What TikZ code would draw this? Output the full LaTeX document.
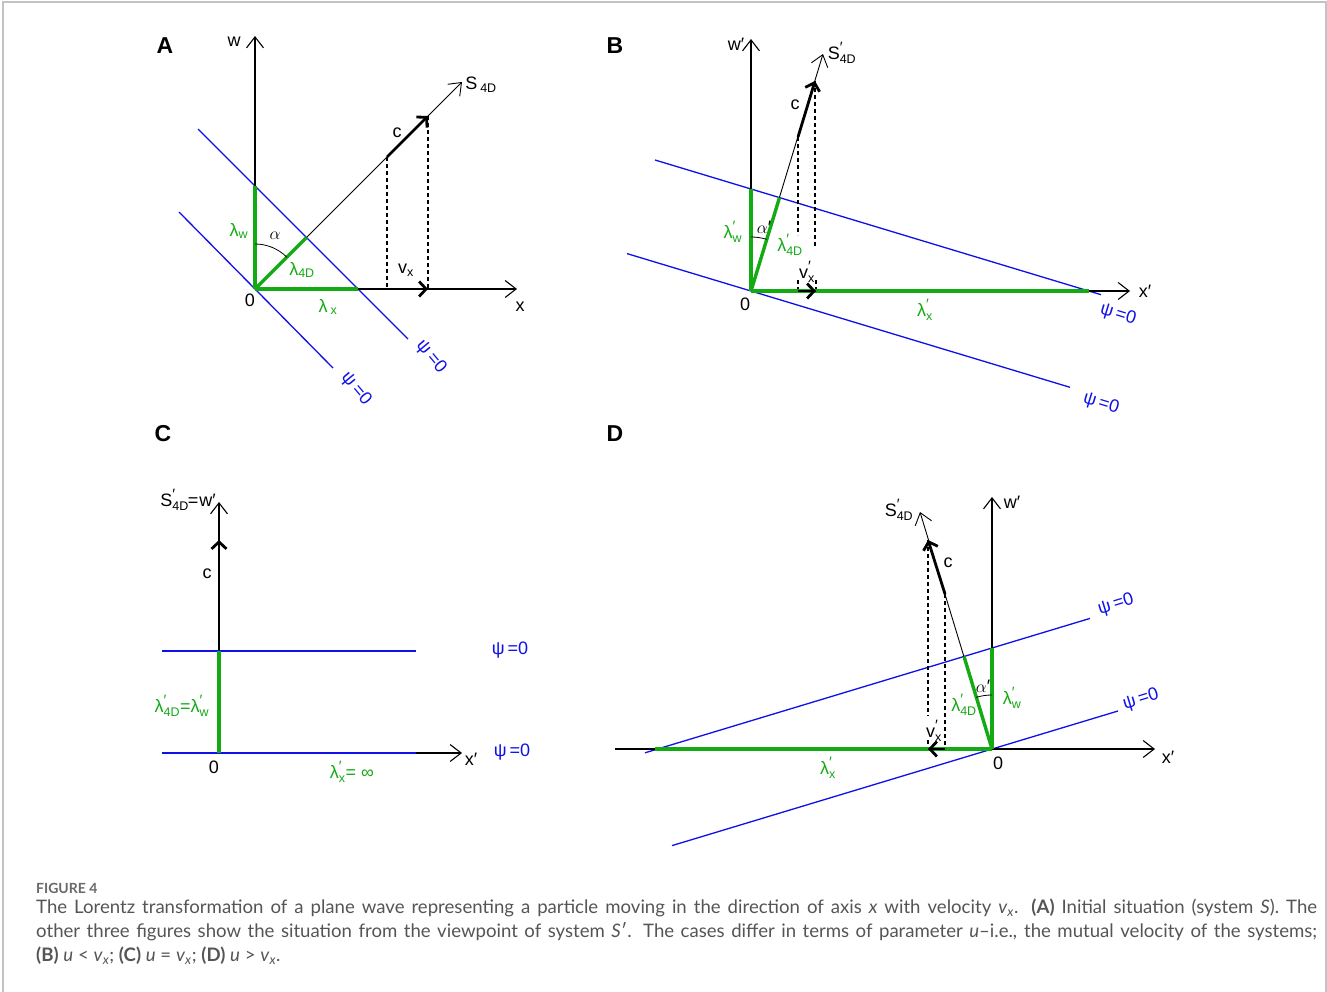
\documentclass[tikz,border=0pt]{standalone}
\usepackage{fontspec}
\setmainfont{Liberation Sans}
\newfontfamily\capfont{Lato}
\usetikzlibrary{arrows.meta,calc}
\definecolor{grn}{RGB}{20,170,20}
\definecolor{blu}{RGB}{15,15,235}
\definecolor{capgray}{RGB}{85,85,85}
\definecolor{figgray}{RGB}{105,105,105}
\definecolor{framegray}{RGB}{195,195,195}
\newcommand\lfs{\fontsize{18}{21}\selectfont}
\newcommand\sfs{\fontsize{12.5}{14}\selectfont}
\newcommand\pfs{\fontsize{15}{16}\selectfont}
\newcommand\sbb[1]{\ensuremath{_{\hbox{\sfs #1}}}}
\newcommand\ssb[1]{\ensuremath{^{\hbox{\pfs ′}}_{\hbox{\sfs #1}}}}
\tikzset{
  axis/.style={black, line width=1.1pt, -{Straight Barb[length=11pt,width=17pt]}},
  sline/.style={black, line width=0.9pt, -{Straight Barb[length=11pt,width=17pt]}},
  vec/.style={black, line width=2.8pt, -{Straight Barb[length=7pt,width=15pt]}},
  dsh/.style={black, line width=1.1pt, dash pattern=on 4pt off 3pt},
  gline/.style={grn, line width=3.4pt},
  bline/.style={blu, line width=1.3pt},
  arcl/.style={black, line width=0.8pt},
  lab/.style={inner sep=0pt, font=\lfs},
  glab/.style={lab, text=grn},
  blab/.style={lab, text=blu},
  plab/.style={inner sep=0pt, font=\fontsize{23}{26}\selectfont\bfseries},
}
\begin{document}
\begin{tikzpicture}[x=1pt,y=-1pt]
\useasboundingbox (0,0) rectangle (1327,992);
\fill[white] (0,0) rectangle (1327,992);
\draw[framegray, line width=1.2pt] (3,992) -- (3,2) -- (1326,2) -- (1326,992);

% ================= Panel A =================
\coordinate (A0) at (255,289);
\coordinate (Aw) at (255,36);
\coordinate (Ax) at (517,289);
\coordinate (As) at (462,82);
\coordinate (Ac1) at (387,157);
\coordinate (Ac2) at (428,116);
\coordinate (Av1) at (387,289);
\coordinate (Av2) at (428,289);
\coordinate (Alw) at (255,186);
\coordinate (Alx) at (358,289);
\coordinate (Al4) at (306.5,237.5);
\coordinate (Ab1s) at (198,129);
\coordinate (Ab1e) at (408,339);
\coordinate (Ab2s) at (179,212);
\coordinate (Ab2e) at (333,368);
\draw[bline] (Ab1s) -- (Ab1e);
\draw[bline] (Ab2s) -- (Ab2e);
\draw[axis] (A0) -- (Aw);
\draw[axis] (A0) -- (Ax);
\draw[sline] (A0) -- (As);
\draw[dsh] (Ac1) -- (Av1);
\draw[dsh] (Ac2) -- (Av2);
\draw[gline] (A0) -- (Alw);
\draw[gline] (A0) -- (Alx);
\draw[gline] (A0) -- (Al4);
\draw[vec] (Ac1) -- (Ac2);
\draw[vec] (Av1) -- (Av2);
\draw[arcl] (A0) ++(0,-45) arc[start angle=90, end angle=45, radius=45pt];
\node[plab] (LA) at (165,46) {A};
\node[lab] (Awl) at (234,42) {w};
\node[lab] (Asl) at (481,85) {S\,\sbb{4D}};
\node[lab] (Acl) at (397,133) {c};
\node[glab] (Alwl) at (239,231) {λ\sbb{w}};
\node[lab] (Aal) at (275,236) {$\alpha$};
\node[glab] (Al4l) at (302,270) {λ\sbb{4D}};
\node[lab] (Avl) at (406,270) {v\sbb{x}};
\node[lab] (A0l) at (250,300) {0};
\node[glab] (Alxl) at (328,307) {λ\,\sbb{x}};
\node[lab] (Axl) at (520,307) {x};
\node[blab, rotate=-50] (Ap1) at (431,357) {ψ\kern3pt=0};
\node[blab, rotate=-50] (Ap2) at (356,389) {ψ\kern3pt=0};

% ================= Panel B =================
\coordinate (B0) at (751,291);
\coordinate (Bw) at (751,39);
\coordinate (Bx) at (1130,291);
\coordinate (Bs) at (823,54);
\coordinate (Bc1) at (798,137);
\coordinate (Bc2) at (815,81);
\coordinate (Bv1) at (798,291);
\coordinate (Bv2) at (816,291);
\coordinate (Bd1) at (798,235);
\coordinate (Bd2) at (815,247);
\coordinate (Bd3) at (798,280);
\coordinate (Bd4) at (816,280);
\coordinate (Blw) at (751,189);
\coordinate (Bl4) at (779.5,197.6);
\coordinate (Blx) at (1089,291);
\coordinate (Bb1s) at (655,160);
\coordinate (Bb1e) at (1101,294.7);
\coordinate (Bb2s) at (627,253.6);
\coordinate (Bb2e) at (1070,387.3);
\draw[bline] (Bb1s) -- (Bb1e);
\draw[bline] (Bb2s) -- (Bb2e);
\draw[axis] (B0) -- (Bw);
\draw[axis] (B0) -- (Bx);
\draw[sline] (B0) -- (Bs);
\draw[dsh] (Bc1) -- (Bd1);
\draw[dsh] (Bc2) -- (Bd2);
\draw[dsh] (Bd3) -- (Bv1);
\draw[dsh] (Bd4) -- (Bv2);
\draw[gline] (B0) -- (Blw);
\draw[gline] (B0) -- (Bl4);
\draw[gline] (B0) -- (Blx);
\draw[vec] (Bc1) -- (Bc2);
\draw[vec] (Bv1) -- (Bv2);
\draw[arcl] (B0) ++(0,-54) arc[start angle=90, end angle=73, radius=54pt];
\node[plab] (LB) at (615,46) {B};
\node[lab] (Bwl) at (736,44) {w′};
\node[lab] (Bsl) at (842,53) {S\ssb{4D}};
\node[lab] (Bcl) at (795,105) {c};
\node[glab] (Blwl) at (733,232) {λ\ssb{w}};
\node[lab] (Bal) at (764,227) {$\alpha$′};
\node[glab] (Bl4l) at (790,245) {λ\ssb{4D}};
\node[lab] (Bvl) at (807,272) {v\ssb{x}};
\node[lab] (B0l) at (745,304) {0};
\node[glab] (Blxl) at (925,310) {λ\ssb{x}};
\node[lab] (Bxl) at (1145,291) {x′};
\node[blab, rotate=-17] (Bp1) at (1118,315) {ψ\kern3pt=0};
\node[blab, rotate=-17] (Bp2) at (1101,404) {ψ\kern3pt=0};

% ================= Panel C =================
\coordinate (C0) at (219,753);
\coordinate (Cw) at (219,502);
\coordinate (Cx) at (462,753);
\coordinate (Cb1s) at (162,651);
\coordinate (Cb1e) at (416,651);
\coordinate (Cb2s) at (162,753);
\coordinate (Cb2e) at (416,753);
\coordinate (Cg) at (219,651);
\coordinate (Cc1) at (219,598);
\coordinate (Cc2) at (219,540);
\draw[axis] (C0) -- (Cw);
\draw[axis] (C0) -- (Cx);
\draw[bline] (Cb1s) -- (Cb1e);
\draw[bline] (Cb2s) -- (Cb2e);
\draw[gline] (C0) -- (Cg);
\draw[vec] (Cc1) -- (Cc2);
\node[plab] (LC) at (163,434) {C};
\node[lab] (Cwl) at (188,500) {S\ssb{4D}\kern-1pt=\kern1pt w′};
\node[lab] (Ccl) at (207,574) {c};
\node[blab] (Cp1) at (510,650) {ψ\kern3pt=0};
\node[blab] (Cp2) at (512,752) {ψ\kern3pt=0};
\node[glab] (Cll) at (182,706) {λ\ssb{4D}=λ\ssb{w}};
\node[lab] (C0l) at (214,767) {0};
\node[glab] (Clxl) at (352,772) {λ\ssb{x}= ∞};
\node[lab] (Cxl) at (471,759) {x′};

% ================= Panel D =================
\coordinate (D0) at (992,749);
\coordinate (Dw) at (992,497);
\coordinate (Dxl) at (615,749);
\coordinate (Dxr) at (1155,749);
\coordinate (Ds) at (920,512);
\coordinate (Dc1) at (945,594);
\coordinate (Dc2) at (928,540);
\coordinate (Dv1) at (945,749);
\coordinate (Dv2) at (928,749);
\coordinate (Dd1) at (928,716);
\coordinate (Dd2) at (928,740);
\coordinate (Dlw) at (992,648);
\coordinate (Dl4) at (964,656.5);
\coordinate (Dlx) at (655,749);
\coordinate (Db1s) at (645,752.8);
\coordinate (Db1e) at (1090,618.4);
\coordinate (Db2s) at (672,845.6);
\coordinate (Db2e) at (1118,711);
\draw[bline] (Db1s) -- (Db1e);
\draw[bline] (Db2s) -- (Db2e);
\draw[axis] (D0) -- (Dw);
\draw[axis] (Dxl) -- (Dxr);
\draw[sline] (D0) -- (Ds);
\draw[dsh] (Dc2) -- (Dd1);
\draw[dsh] (Dd2) -- (Dv2);
\draw[dsh] (Dc1) -- (Dv1);
\draw[gline] (D0) -- (Dlw);
\draw[gline] (D0) -- (Dl4);
\draw[gline] (D0) -- (Dlx);
\draw[vec] (Dc1) -- (Dc2);
\draw[vec] (Dv1) -- (Dv2);
\draw[arcl] (D0) ++(0,-54) arc[start angle=90, end angle=107, radius=54pt];
\node[plab] (LD) at (615,434) {D};
\node[lab] (Dsl) at (899,510) {S\ssb{4D}};
\node[lab] (Dwl) at (1012,502) {w′};
\node[lab] (Dcl) at (948,563) {c};
\node[blab, rotate=17] (Dp1) at (1116,605) {ψ\kern3pt=0};
\node[blab, rotate=17] (Dp2) at (1141,700) {ψ\kern3pt=0};
\node[lab] (Dal) at (983,686) {$\alpha$′};
\node[glab] (Dl4l) at (964,705) {λ\ssb{4D}};
\node[glab] (Dlwl) at (1012,698) {λ\ssb{w}};
\node[lab] (Dvl) at (934,731) {v\ssb{x}};
\node[lab] (D0l) at (998,763) {0};
\node[glab] (Dlxl) at (828,768) {λ\ssb{x}};
\node[lab] (Dxl2) at (1168,757) {x′};

% ================= Caption =================
\node[anchor=base west, inner sep=0pt, font=\capfont\fontsize{14}{16}\selectfont\bfseries, text=figgray] (fig) at (36,893) {FIGURE 4};
\node[anchor=north west, inner sep=0pt, text width=1281pt, align=justify,
      font=\capfont\fontsize{18.6}{24}\selectfont, text=capgray] (cap) at (36,899)
{The Lorentz transformation of a plane wave representing a particle moving in the direction of axis \emph{x} with velocity \emph{v}\textsubscript{\emph{x}}. \textbf{(A)} Initial situation (system \emph{S}). The\linebreak
other three figures show the situation from the viewpoint of system \emph{S}\kern.5pt′. The cases differ in terms of parameter \emph{u}–i.e., the mutual velocity of the systems;\linebreak
\textbf{(B)} \emph{u} < \emph{v}\textsubscript{\emph{x}}; \textbf{(C)} \emph{u} = \emph{v}\textsubscript{\emph{x}}; \textbf{(D)} \emph{u} > \emph{v}\textsubscript{\emph{x}}.};
\end{tikzpicture}
\end{document}
